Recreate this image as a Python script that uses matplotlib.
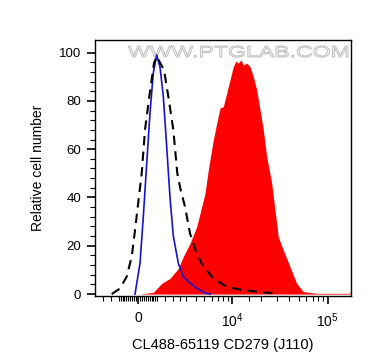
import numpy as np
import matplotlib
matplotlib.use("Agg")
import matplotlib.pyplot as plt
from matplotlib.textpath import TextPath
from matplotlib.patches import PathPatch
from matplotlib.font_manager import FontProperties
from matplotlib.transforms import Affine2D, IdentityTransform

plt.rcParams['font.family'] = ['Liberation Sans', 'DejaVu Sans']
plt.rcParams['mathtext.fontset'] = 'custom'
plt.rcParams['mathtext.rm'] = 'Liberation Sans'
plt.rcParams['mathtext.it'] = 'Liberation Sans'

# isotype control (dashed), unstained (blue), CD279 stained (red fill)
ctrl_x = [-1427, -943, -581, -321, -152, 188, 357, 581, 833, 982, 1408, 1679, 2017,
          2305, 2569, 2926, 3382, 4070, 4849, 6271, 8763, 12139, 18200, 27130]
ctrl_y = [0, 2.3, 7.2, 15.5, 26.5, 50, 68, 81.8, 95.6, 98.4, 92.8, 81.8, 68,
          50, 43, 36.2, 25.1, 16.9, 11.3, 6.5, 3.0, 1.9, 1.0, 0.3]

blank_x = [-152, 102, 270, 445, 618, 795, 982, 1170, 1365, 1576, 1790, 2017,
           2381, 2780, 3382, 4070, 5070, 5767]
blank_y = [0, 12.8, 32, 54, 75, 91.6, 99, 94, 82, 61, 40, 24,
           12.8, 7.2, 4.5, 2.4, 0.4, 0]

stain_x = [102, 795, 1270, 1790, 2381, 2780, 3382, 4070, 4650, 5070, 5520, 6271,
           6833, 7424, 8055, 8763, 9510, 10306, 11000, 11646, 12400, 13153, 14286,
           15480, 16757, 18200, 19700, 21330, 23150, 26110, 28270, 30600, 34520,
           40540, 47600, 55810, 76970, 171100, 175000]
stain_y = [0, 0.7, 4.4, 6.5, 10.6, 15.5, 21, 27.9, 36.2, 41.7, 51.4, 63.8,
           70.7, 77, 77.6, 83.2, 88.7, 94.2, 96.5, 95.6, 97, 94.9, 95.6,
           94.2, 90, 84.5, 76.3, 68, 56.9, 45.9, 34.8, 23.7, 18.2,
           11.3, 4.4, 1.0, 0.3, 0.3, 2.3]

x_major = [0, 1e4, 1e5]
x_major_labels = ['0', '$10^4$', '$10^5$']
x_minor = ([-2000, -1500] + list(range(-1000, 0, 100)) + list(range(100, 1000, 100))
           + [1000, 1500, 2000, 2500, 3000, 4000, 5000, 6000, 7000, 8000, 9000]
           + [15000, 20000, 30000, 40000, 50000, 60000, 70000, 80000, 90000])

C = 2118.0


def fwd(x):
    return np.arcsinh(np.asarray(x, float) / C) / np.log(10)


def inv(y):
    return C * np.sinh(np.asarray(y, float) * np.log(10))


fig = plt.figure(figsize=(3.76, 3.64), dpi=100)
ax = fig.add_axes([95 / 376, 68 / 364, 256 / 376, 256 / 364])
ax.set_xscale('function', functions=(fwd, inv))
ax.set_xlim(-2594, 175270)
ax.set_ylim(-0.8, 105.2)

ax.fill_between(stain_x, stain_y, 0, color='#ff0000', lw=0, zorder=2)
ax.plot(blank_x, blank_y, color='#1414cc', lw=1.2, zorder=3)
ax.plot(ctrl_x, ctrl_y, color='black', lw=1.5, ls=(0, (4.5, 3)), zorder=4)

ax.set_xticks(x_major)
ax.set_xticklabels(x_major_labels)
ax.set_xticks(x_minor, minor=True)
ax.set_yticks(range(0, 101, 20))
ax.set_yticks(range(0, 101, 4), minor=True)
ax.tick_params(which='major', length=6, width=1.2, labelsize=9.5, direction='out', pad=4)
ax.tick_params(which='minor', length=3.5, width=0.8, direction='out')
ax.tick_params(axis='x', which='major', labelsize=10, pad=5)
for s in ax.spines.values():
    s.set_linewidth(1.0)

ax.set_xlabel('CL488-65119 CD279 (J110)', fontsize=10.5, labelpad=6)
ax.set_ylabel('Relative cell number', fontsize=10, labelpad=10)

# watermark
tp = TextPath((0, 0), 'WWW.PTGLAB.COM', size=1, prop=FontProperties(family='Liberation Sans'))
bb = tp.get_extents()
sx = 220 / bb.width
sy = 11.5 / 0.72
tr = Affine2D().translate(-bb.x0, 0).scale(sx, sy).translate(128, 364 - 57)
wm = PathPatch(tp, transform=tr + IdentityTransform(), facecolor='#f2f2f2',
               edgecolor='#b8b8b8', lw=0.6, zorder=1.5, clip_on=False)
ax.add_artist(wm)

fig.savefig('out.png', dpi=100)
